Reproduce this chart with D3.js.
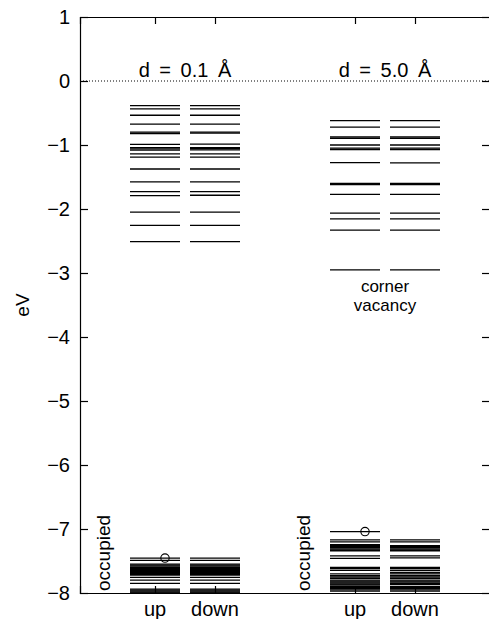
<!DOCTYPE html>
<html>
<head>
<meta charset="utf-8">
<script src="https://cdn.jsdelivr.net/npm/d3@7"></script>
<style>
  body { margin: 0; background: #fff; }
  text { font-family: "Liberation Sans", Arial, sans-serif; fill: #000; }
</style>
</head>
<body>
<div id="chart"></div>
<script>
// panels (separation d) and spin channels
var panels = ["d = 0.1 Å", "d = 5.0 Å"];
var spins = ["up", "down"];
var yTicks = [1, 0, -1, -2, -3, -4, -5, -6, -7, -8];

// unoccupied levels, eV
var emptyUp01 = [-0.385, -0.435, -0.535, -0.675, -0.80, -0.82, -0.99, -1.04, -1.06, -1.08,
  -1.14, -1.19, -1.375, -1.575, -1.73, -1.79, -2.05, -2.255, -2.51];
var emptyDown01 = [-0.385, -0.435, -0.535, -0.675, -0.80, -0.815, -0.985, -1.04, -1.055, -1.075,
  -1.14, -1.19, -1.375, -1.575, -1.73, -1.785, -2.05, -2.255, -2.51];
var emptyUp50 = [-0.62, -0.72, -0.875, -0.895, -1.0, -1.05, -1.07, -1.275, -1.60, -1.62,
  -1.77, -2.065, -2.155, -2.33, -2.95];
var emptyDown50 = [-0.62, -0.72, -0.875, -0.895, -1.0, -1.05, -1.07, -1.28, -1.60, -1.62,
  -1.77, -2.065, -2.155, -2.33, -2.95];

// occupied levels, eV
var occUp01 = [-7.455, -7.49, -7.55, -7.565, -7.58, -7.60, -7.615, -7.63, -7.645, -7.66, -7.68,
  -7.695, -7.71, -7.72, -7.755, -7.80, -7.85, -7.94, -7.955, -7.97, -7.985, -8.0];
var occDown01 = [-7.455, -7.49, -7.55, -7.565, -7.58, -7.60, -7.615, -7.63, -7.645, -7.66, -7.68,
  -7.695, -7.71, -7.72, -7.755, -7.80, -7.85, -7.94, -7.955, -7.97, -7.985, -8.0];
var occUp50 = [-7.04, -7.17, -7.20, -7.245, -7.26, -7.275, -7.29, -7.31, -7.325, -7.34, -7.42,
  -7.46, -7.60, -7.62, -7.645, -7.70, -7.73, -7.75, -7.77, -7.80, -7.815, -7.83, -7.845, -7.86,
  -7.875, -7.90, -7.915, -7.93, -7.95, -7.97];
var occDown50 = [-7.17, -7.20, -7.26, -7.275, -7.29, -7.31, -7.325, -7.34, -7.42, -7.45, -7.60,
  -7.62, -7.645, -7.68, -7.70, -7.73, -7.75, -7.77, -7.80, -7.815, -7.83, -7.85, -7.87, -7.90,
  -7.915, -7.93, -7.95, -7.97];

// highest occupied state (marked with a circle)
var homo = [-7.455, -7.04];
var vacancyLabel = ["corner", "vacancy"];

var levels = [
  [emptyUp01.concat(occUp01), emptyDown01.concat(occDown01)],
  [emptyUp50.concat(occUp50), emptyDown50.concat(occDown50)]
];

var W = 489, H = 619,
    margin = { top: 17, right: -1, bottom: 26, left: 80 },
    width = W - margin.left - margin.right,
    height = H - margin.top - margin.bottom;

var svg = d3.select("#chart").append("svg")
  .attr("width", W).attr("height", H);

var g = svg.append("g")
  .attr("transform", "translate(" + margin.left + "," + margin.top + ")");

var y = d3.scaleLinear().domain([-8, 1]).range([height, 0]);

var xPanel = d3.scaleBand().domain(panels).range([0, width])
  .paddingInner(0.45).paddingOuter(0.25);
var xSpin = d3.scaleBand().domain(spins).range([0, xPanel.bandwidth()])
  .paddingInner(1 / 6).paddingOuter(0);

var plot = g.append("g");
plot.append("clipPath").attr("id", "clip")
  .append("rect").attr("width", width).attr("height", height);

// zero line
g.append("line")
  .attr("x1", 0).attr("x2", width)
  .attr("y1", y(0)).attr("y2", y(0))
  .attr("stroke", "#000").attr("stroke-width", 1)
  .attr("stroke-dasharray", "1,2");

panels.forEach(function(p, pi) {
  var pg = plot.append("g")
    .attr("clip-path", "url(#clip)")
    .attr("transform", "translate(" + xPanel(p) + ",0)");

  spins.forEach(function(s, si) {
    pg.selectAll(null).data(levels[pi][si]).enter()
      .append("line")
      .attr("x1", xSpin(s)).attr("x2", xSpin(s) + xSpin.bandwidth())
      .attr("y1", function(d) { return y(d); })
      .attr("y2", function(d) { return y(d); })
      .attr("stroke", "#000").attr("stroke-width", 1.3);
  });

  pg.append("circle")
    .attr("cx", xSpin("up") + xSpin.bandwidth() * 0.7)
    .attr("cy", y(homo[pi]))
    .attr("r", 4.2)
    .attr("fill", "none").attr("stroke", "#000").attr("stroke-width", 1.1);

  g.append("text")
    .attr("x", xPanel(p) + xPanel.bandwidth() / 2)
    .attr("y", 60)
    .attr("text-anchor", "middle")
    .style("font-size", "20px")
    .style("word-spacing", "4px")
    .text(p);

  g.append("text")
    .attr("transform", "translate(" + (xPanel(p) - 20) + "," + (height - 2) + ") rotate(-90)")
    .style("font-size", "19px")
    .text("occupied");

  spins.forEach(function(s) {
    svg.append("text")
      .attr("x", margin.left + xPanel(p) + xSpin(s) + xSpin.bandwidth() / 2)
      .attr("y", 616)
      .attr("text-anchor", "middle")
      .style("font-size", "20px")
      .text(s);
  });
});

// corner vacancy label
var vx = xPanel(panels[1]) + xPanel.bandwidth() / 2;
g.selectAll(".vac").data(vacancyLabel).enter()
  .append("text")
  .attr("class", "vac")
  .attr("x", vx)
  .attr("y", function(d, i) { return y(-3.3) + i * 19; })
  .attr("text-anchor", "middle")
  .style("font-size", "17px")
  .text(function(d) { return d; });

// axes (ticks inward, mirrored)
var fmt = function(d) { return String(d).replace("-", "\u2212"); };
var yLeft = g.append("g").call(d3.axisLeft(y).tickValues(yTicks).tickSize(-8).tickPadding(10).tickFormat(fmt));
var yRight = g.append("g").attr("transform", "translate(" + width + ",0)")
  .call(d3.axisRight(y).tickValues(yTicks).tickSize(-8).tickFormat(""));

var tickX = [];
panels.forEach(function(p) {
  spins.forEach(function(s) { tickX.push(xPanel(p) + xSpin(s) + xSpin.bandwidth() / 2); });
});
var xLin = d3.scaleLinear().domain([0, width]).range([0, width]);
var xBottom = g.append("g").attr("transform", "translate(0," + height + ")")
  .call(d3.axisBottom(xLin).tickValues(tickX).tickSize(-7).tickFormat(""));
var xTop = g.append("g")
  .call(d3.axisTop(xLin).tickValues(tickX).tickSize(-7).tickFormat(""));

[yLeft, yRight, xBottom, xTop].forEach(function(a) {
  a.select(".domain").attr("stroke", "#000").attr("stroke-width", 1.2);
  a.selectAll(".tick line").attr("stroke", "#000").attr("stroke-width", 1.2);
});
yLeft.selectAll(".tick text")
  .style("font-family", '"Liberation Sans", Arial, sans-serif')
  .style("font-size", "20px").attr("fill", "#000");

// y label
svg.append("text")
  .attr("transform", "translate(29,305) rotate(-90)")
  .attr("text-anchor", "middle")
  .style("font-size", "19px")
  .text("eV");
</script>
</body>
</html>
